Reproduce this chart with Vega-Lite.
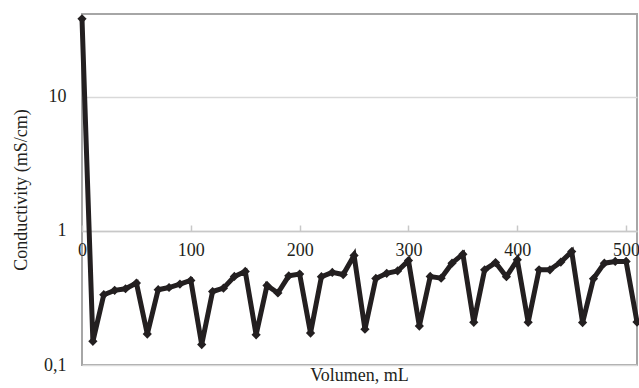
{
  "$schema": "https://vega.github.io/schema/vega-lite/v6.json",
  "width": 555,
  "height": 351,
  "autosize": "none",
  "padding": {"left": 82, "top": 14, "right": 2, "bottom": 23},
  "background": "white",
  "title": {"text": "Volumen, mL", "orient": "bottom", "anchor": "middle", "font": "Liberation Serif", "fontSize": 18, "fontWeight": "normal", "color": "#231f20", "offset": -7},
  "config": {
    "view": {"stroke": "#a6a6a6", "strokeWidth": 2},
    "font": "Liberation Serif"
  },
  "data": {"values": [
    {"v": 0, "c": 38},
    {"v": 10, "c": 0.150},
    {"v": 20, "c": 0.334},
    {"v": 30, "c": 0.360},
    {"v": 40, "c": 0.370},
    {"v": 50, "c": 0.408},
    {"v": 60, "c": 0.170},
    {"v": 70, "c": 0.364},
    {"v": 80, "c": 0.378},
    {"v": 90, "c": 0.401},
    {"v": 100, "c": 0.427},
    {"v": 110, "c": 0.142},
    {"v": 120, "c": 0.353},
    {"v": 130, "c": 0.374},
    {"v": 140, "c": 0.457},
    {"v": 150, "c": 0.498},
    {"v": 160, "c": 0.168},
    {"v": 170, "c": 0.392},
    {"v": 180, "c": 0.344},
    {"v": 190, "c": 0.462},
    {"v": 200, "c": 0.476},
    {"v": 210, "c": 0.173},
    {"v": 220, "c": 0.455},
    {"v": 230, "c": 0.490},
    {"v": 240, "c": 0.472},
    {"v": 250, "c": 0.655},
    {"v": 260, "c": 0.185},
    {"v": 270, "c": 0.442},
    {"v": 280, "c": 0.482},
    {"v": 290, "c": 0.502},
    {"v": 300, "c": 0.600},
    {"v": 310, "c": 0.195},
    {"v": 320, "c": 0.457},
    {"v": 330, "c": 0.444},
    {"v": 340, "c": 0.574},
    {"v": 350, "c": 0.670},
    {"v": 360, "c": 0.208},
    {"v": 370, "c": 0.512},
    {"v": 380, "c": 0.580},
    {"v": 390, "c": 0.455},
    {"v": 400, "c": 0.608},
    {"v": 410, "c": 0.208},
    {"v": 420, "c": 0.512},
    {"v": 430, "c": 0.512},
    {"v": 440, "c": 0.585},
    {"v": 450, "c": 0.700},
    {"v": 460, "c": 0.207},
    {"v": 470, "c": 0.440},
    {"v": 480, "c": 0.574},
    {"v": 490, "c": 0.591},
    {"v": 500, "c": 0.591},
    {"v": 510, "c": 0.209}
  ]},
  "encoding": {
    "x": {"field": "v", "type": "quantitative",
      "scale": {"domain": [0, 510], "nice": false, "zero": false},
      "axis": {"title": null, "values": [0, 100, 200, 300, 400, 500], "grid": false,
        "offset": -134, "domainColor": "#c8c8c8", "domainWidth": 1.5,
        "tickColor": "#c8c8c8", "tickSize": -6, "tickWidth": 1.5,
        "labelFont": "Liberation Serif", "labelFontSize": 18, "labelColor": "#231f20",
        "labelPadding": 16, "labelFlush": false}},
    "y": {"field": "c", "type": "quantitative",
      "scale": {"type": "log", "domain": [0.1, 41.3], "nice": false},
      "axis": {"title": "Conductivity (mS/cm)", "values": [0.1, 1, 10],
        "labelExpr": "datum.value < 0.5 ? '0,1' : datum.label",
        "grid": true, "gridColor": "#d9d9d9", "gridWidth": 1.5,
        "domain": false, "ticks": false,
        "labelFont": "Liberation Serif", "labelFontSize": 18, "labelColor": "#231f20",
        "labelPadding": 16,
        "titleFont": "Liberation Serif", "titleFontSize": 18, "titleFontWeight": "normal",
        "titleColor": "#231f20", "titlePadding": 13}}
  },
  "layer": [
    {"mark": {"type": "line", "color": "#231f20", "strokeWidth": 5, "strokeJoin": "miter"}},
    {"mark": {"type": "point", "shape": "diamond", "filled": true, "color": "#231f20", "size": 85, "opacity": 1}}
  ]
}
